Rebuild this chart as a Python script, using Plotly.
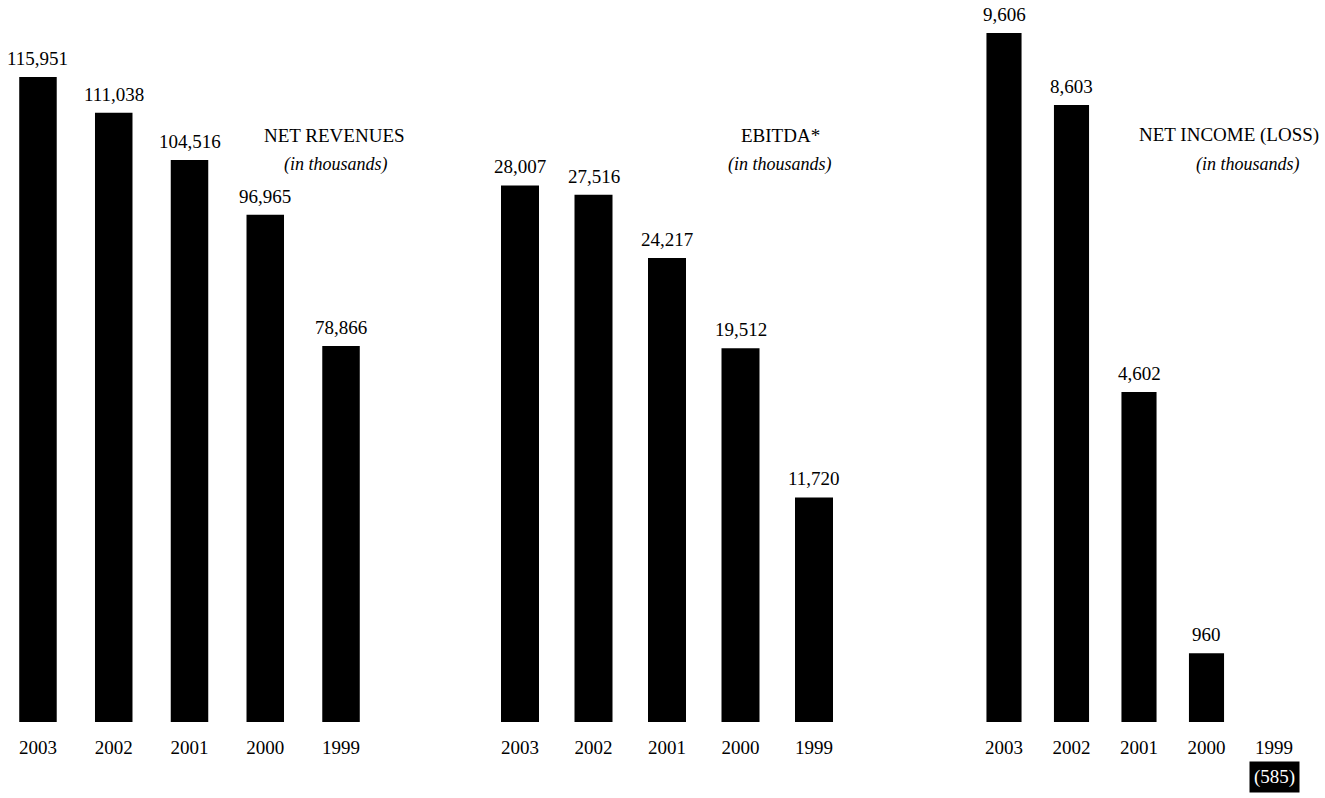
import plotly.graph_objects as go

# ---- data ----
years = ["2003", "2002", "2001", "2000", "1999"]
net_revenues = [115951, 111038, 104516, 96965, 78866]
ebitda = [28007, 27516, 24217, 19512, 11720]
net_income = [9606, 8603, 4602, 960, -585]

titles = ["NET REVENUES", "EBITDA*", "NET INCOME (LOSS)"]
subtitle = "(in thousands)"

# ---- layout constants (pixels) ----
W, H = 1325, 798
FONT = "Liberation Serif"
FS = 19
base_px = 722

def px_x(p):
    return p / W

def px_y(p):
    return 1 - p / H

x_domains = [(0.1, 378.9), (483.25, 850.75), (970.25, 1307.75)]
bar_widths = [0.495, 0.517, 0.52]
y_ranges = [[27000, 126573], [0, 37683], [0, 10066]]
title_x = [(334, 336), (780, 780), (1229, 1248)]

series = [net_revenues, ebitda, net_income]

fig = go.Figure()
for i, vals in enumerate(series):
    xa = "x" if i == 0 else f"x{i+1}"
    ya = "y" if i == 0 else f"y{i+1}"
    fig.add_trace(go.Bar(
        x=years, y=vals, xaxis=xa, yaxis=ya,
        marker=dict(color="#000000", line=dict(width=0)),
        width=bar_widths[i],
        showlegend=False,
        hoverinfo="skip",
    ))

layout = dict(
    width=W, height=H, autosize=False,
    margin=dict(l=0, r=0, t=0, b=0),
    paper_bgcolor="white", plot_bgcolor="white",
    font=dict(family=FONT, size=FS, color="#000000"),
    showlegend=False,
)
for i in range(3):
    xk = "xaxis" if i == 0 else f"xaxis{i+1}"
    yk = "yaxis" if i == 0 else f"yaxis{i+1}"
    ya = "y" if i == 0 else f"y{i+1}"
    xa = "x" if i == 0 else f"x{i+1}"
    layout[xk] = dict(
        domain=[px_x(x_domains[i][0]), px_x(x_domains[i][1])],
        anchor=ya, type="category", range=[-0.5, len(years) - 0.5],
        categoryorder="array", categoryarray=years,
        showgrid=False, zeroline=False, showline=False, ticks="",
        tickfont=dict(family=FONT, size=FS, color="#000000"),
        ticklabelstandoff=12,
        fixedrange=True,
    )
    layout[yk] = dict(
        domain=[px_y(base_px), 1], anchor=xa,
        range=y_ranges[i], visible=False, fixedrange=True,
    )
fig.update_layout(**layout)

# value labels above the bars (category axes take the category index)
for i, vals in enumerate(series):
    xa = "x" if i == 0 else f"x{i+1}"
    ya = "y" if i == 0 else f"y{i+1}"
    for k, v in enumerate(vals):
        if v > 0:
            fig.add_annotation(text=f"{v:,}", xref=xa, yref=ya, x=k, y=v,
                               xanchor="center", yanchor="bottom", yshift=6,
                               showarrow=False,
                               font=dict(family=FONT, size=FS, color="#000000"))
        else:
            fig.add_annotation(text=f"({abs(v):,})", xref=xa, yref=ya, x=k,
                               y=y_ranges[i][0], xanchor="center", yanchor="top", yshift=-39,
                               showarrow=False, bgcolor="#000000", borderpad=4,
                               font=dict(family=FONT, size=FS, color="#ffffff"))

# titles
for i, t in enumerate(titles):
    fig.add_annotation(text=t, xref="paper", yref="paper",
                       x=px_x(title_x[i][0]), y=px_y(135), xanchor="center", yanchor="middle",
                       showarrow=False, font=dict(family=FONT, size=FS, color="#000000"))
    fig.add_annotation(text=f"<i>{subtitle}</i>", xref="paper", yref="paper",
                       x=px_x(title_x[i][1]), y=px_y(164), xanchor="center", yanchor="middle",
                       showarrow=False, font=dict(family=FONT, size=FS - 1, color="#000000"))

fig.write_html("out.html")
